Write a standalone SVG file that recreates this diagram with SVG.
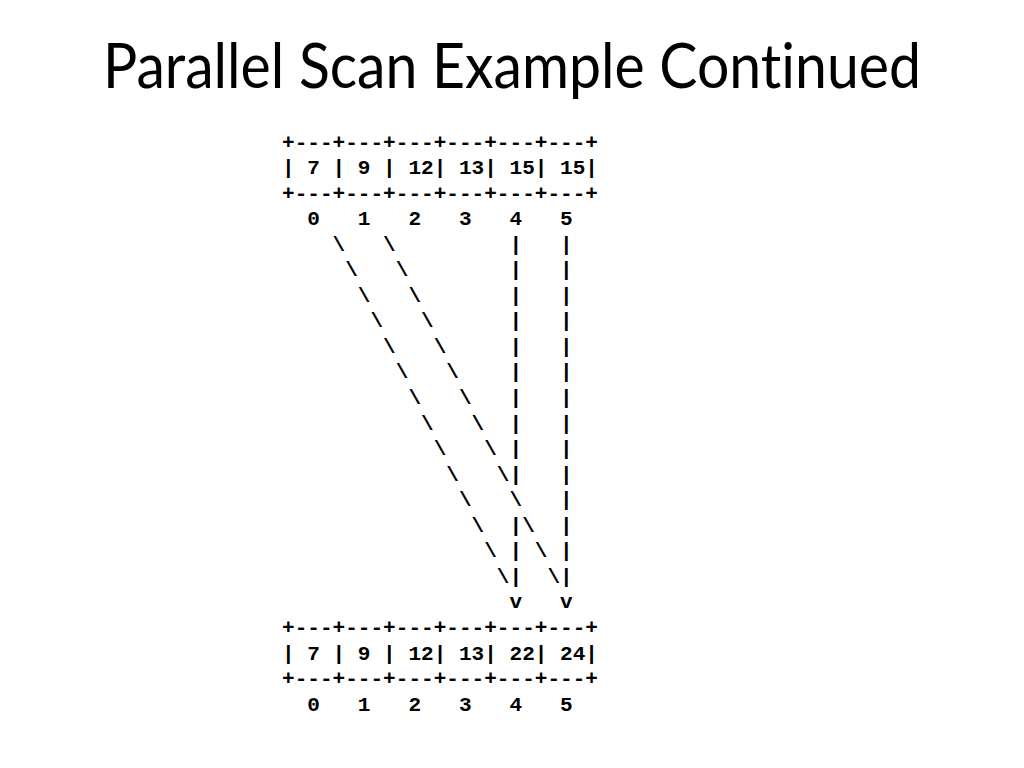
<svg xmlns="http://www.w3.org/2000/svg" width="1024" height="768" viewBox="0 0 1024 768">
<style>
.t{font-family:"Lato","Open Sans","Liberation Sans",sans-serif;font-size:62px;fill:#000;font-variant-ligatures:none}
.m{font-family:"Liberation Mono","DejaVu Sans Mono",monospace;font-size:21.07px;font-weight:bold;fill:#000;white-space:pre}
</style>
<rect width="1024" height="768" fill="#fff"/>
<text class="t" x="512" y="88" text-anchor="middle" textLength="818" lengthAdjust="spacingAndGlyphs">Parallel Scan Example Continued</text>
<g id="top-array">
<text class="m" x="282" y="148.5" xml:space="preserve">+---+---+---+---+---+---+</text>
<text class="m" x="282" y="174" xml:space="preserve">| 7 | 9 | 12| 13| 15| 15|</text>
<text class="m" x="282" y="199.6" xml:space="preserve">+---+---+---+---+---+---+</text>
<text class="m" x="282" y="225.1" xml:space="preserve">  0   1   2   3   4   5</text>
</g>
<g id="connectors">
<text class="m" x="282" y="250.7" xml:space="preserve">    \   \         |   |</text>
<text class="m" x="282" y="276.2" xml:space="preserve">     \   \        |   |</text>
<text class="m" x="282" y="301.8" xml:space="preserve">      \   \       |   |</text>
<text class="m" x="282" y="327.3" xml:space="preserve">       \   \      |   |</text>
<text class="m" x="282" y="352.9" xml:space="preserve">        \   \     |   |</text>
<text class="m" x="282" y="378.4" xml:space="preserve">         \   \    |   |</text>
<text class="m" x="282" y="404" xml:space="preserve">          \   \   |   |</text>
<text class="m" x="282" y="429.5" xml:space="preserve">           \   \  |   |</text>
<text class="m" x="282" y="455.1" xml:space="preserve">            \   \ |   |</text>
<text class="m" x="282" y="480.6" xml:space="preserve">             \   \|   |</text>
<text class="m" x="282" y="506.2" xml:space="preserve">              \   \   |</text>
<text class="m" x="282" y="531.7" xml:space="preserve">               \  |\  |</text>
<text class="m" x="282" y="557.3" xml:space="preserve">                \ | \ |</text>
<text class="m" x="282" y="582.8" xml:space="preserve">                 \|  \|</text>
<text class="m" x="282" y="608.4" xml:space="preserve">                  v   v</text>
</g>
<g id="bottom-array">
<text class="m" x="282" y="633.9" xml:space="preserve">+---+---+---+---+---+---+</text>
<text class="m" x="282" y="659.5" xml:space="preserve">| 7 | 9 | 12| 13| 22| 24|</text>
<text class="m" x="282" y="685" xml:space="preserve">+---+---+---+---+---+---+</text>
<text class="m" x="282" y="710.6" xml:space="preserve">  0   1   2   3   4   5</text>
</g>
</svg>
